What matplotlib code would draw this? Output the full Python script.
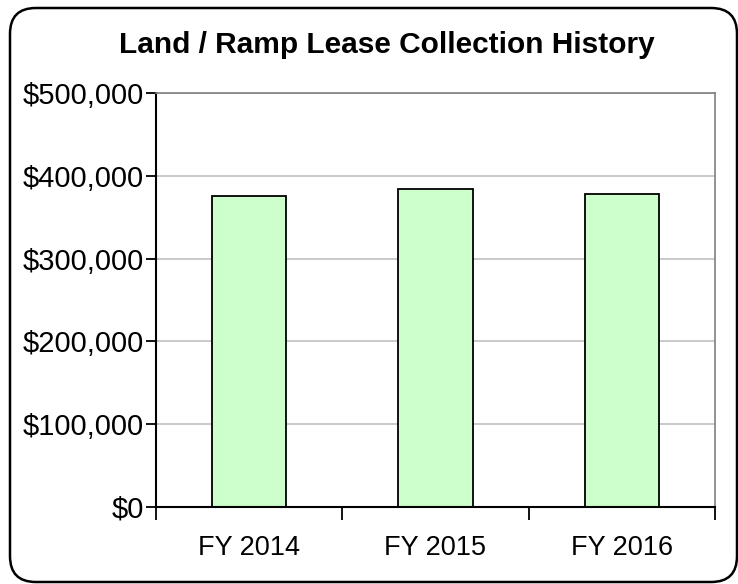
import matplotlib
matplotlib.use("Agg")
import matplotlib.pyplot as plt
from matplotlib.patches import FancyBboxPatch
from matplotlib.ticker import FuncFormatter, FixedLocator

categories = ["FY 2014", "FY 2015", "FY 2016"]
values = [375500, 383500, 378000]
title = "Land / Ramp Lease Collection History"

plt.rcParams['font.family'] = ['Liberation Sans', 'DejaVu Sans']

W, H = 738, 584
fig = plt.figure(figsize=(W/100, H/100), dpi=100)
fig.patch.set_facecolor("white")

# rounded outer border
bl, bt, br, bb = 10, 8, 737, 582
border = FancyBboxPatch((bl/W, 1-bb/H), (br-bl)/W, (bb-bt)/H,
                        boxstyle="round,pad=0,rounding_size=0.035",
                        transform=fig.transFigure, facecolor="none",
                        edgecolor="black", linewidth=1.8, zorder=5,
                        mutation_aspect=W/H)
fig.patches.append(border)

left, right, top, bottom = 156, 715, 93, 507
ax = fig.add_axes([left/W, 1-bottom/H, (right-left)/W, (bottom-top)/H])
ax.set_facecolor("white")

x = list(range(len(categories)))
ax.bar(x, values, width=0.4, color="#CCFFCC", edgecolor="black", linewidth=1.3, zorder=3)

ax.set_xlim(-0.5, len(categories)-0.5)
ax.set_ylim(0, 500000)
ax.set_yticks([0, 100000, 200000, 300000, 400000, 500000])
ax.yaxis.set_major_formatter(FuncFormatter(lambda v, p: "${:,.0f}".format(v)))
ax.set_xticks(x)
ax.set_xticklabels(categories)
ax.xaxis.set_minor_locator(FixedLocator([-0.5, 0.5, 1.5, 2.5]))
ax.tick_params(axis="x", which="major", length=0, pad=20, labelsize=19.5)
ax.tick_params(axis="x", which="minor", length=9, width=1.3, direction="out", color="black")
ax.tick_params(axis="y", length=7, width=1.3, direction="out", labelsize=21, pad=1.5)
ax.grid(axis="y", color="#C0C0C0", linewidth=1.2, zorder=0)

ax.spines["left"].set_color("black")
ax.spines["left"].set_linewidth(1.5)
ax.spines["bottom"].set_color("black")
ax.spines["bottom"].set_linewidth(1.5)
ax.spines["top"].set_color("#808080")
ax.spines["top"].set_linewidth(1.2)
ax.spines["right"].set_color("#808080")
ax.spines["right"].set_linewidth(1.2)
for s in ax.spines.values():
    s.set_zorder(4)

fig.text(387/W, 1-45/H, title, ha="center", va="center", fontsize=21.5, fontweight="bold")

fig.savefig("out.png", dpi=100)
